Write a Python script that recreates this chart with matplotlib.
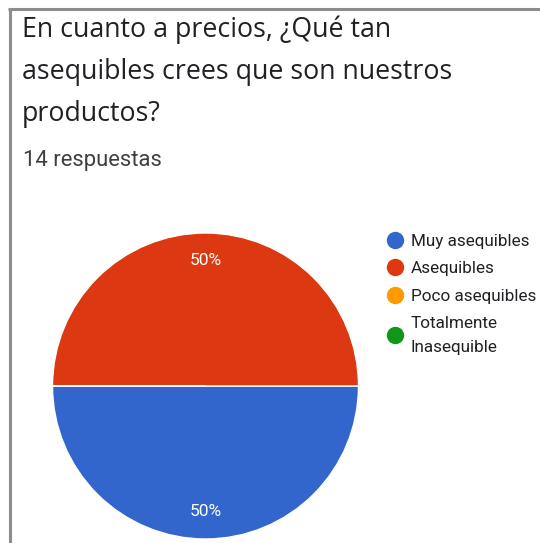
import matplotlib
matplotlib.use("Agg")
import matplotlib.pyplot as plt
from matplotlib.lines import Line2D

# survey answers
categories = ["Muy asequibles", "Asequibles", "Poco asequibles", "Totalmente\nInasequible"]
counts = [7, 7, 0, 0]
colors = ["#3366cc", "#dc3912", "#ff9900", "#109618"]
title_lines = ["En cuanto a precios, ¿Qué tan", "asequibles crees que son nuestros", "productos?"]
subtitle = "14 respuestas"

plt.rcParams["font.family"] = ["Roboto", "DejaVu Sans"]

W, H = 540, 543
fig = plt.figure(figsize=(W / 100, H / 100), dpi=100)
fig.patch.set_facecolor("white")

# card frame: left and top edge only
frame_col = "#8c8c8c"
fig.add_artist(Line2D([9.5 / W, 9.5 / W], [0, 1 - 8.5 / H], color=frame_col, lw=2.2,
                      solid_capstyle="butt"))
fig.add_artist(Line2D([8.3 / W, 1], [1 - 8.5 / H, 1 - 8.5 / H], color=frame_col, lw=2.2,
                      solid_capstyle="butt"))

# question text
for i, line in enumerate(title_lines):
    fig.text(22 / W, 1 - (37 + i * 42) / H, line, fontsize=19.3, color="#202124",
             family=["Open Sans", "DejaVu Sans"], ha="left", va="baseline")
fig.text(23 / W, 1 - 166 / H, subtitle, fontsize=15.8, color="#3c4043",
         ha="left", va="baseline")

# pie
cx, cy, r = 205.5, 386, 153
ax = fig.add_axes([(cx - r) / W, (H - cy - r) / H, 2 * r / W, 2 * r / H])


def pct_label(p):
    return f"{p:.0f}%" if p > 0 else ""


wedges, texts, autotexts = ax.pie(
    counts, colors=colors, startangle=180, counterclock=True,
    autopct=pct_label, pctdistance=0.82, radius=1,
    wedgeprops=dict(edgecolor="white", linewidth=1),
    textprops=dict(color="white", fontsize=12.5))
ax.set_xlim(-1, 1)
ax.set_ylim(-1, 1)
ax.set_aspect("equal")
ax.axis("off")

# legend with round markers
handles = [Line2D([], [], marker="o", linestyle="none", markersize=11.5,
                  markerfacecolor=c, markeredgecolor=c) for c in colors]
leg = fig.legend(handles, categories, loc="upper left",
                 bbox_to_anchor=(387 / W, 1 - 234 / H), frameon=False,
                 fontsize=12.3, handlelength=0.95, handletextpad=0.45,
                 labelspacing=0.72, borderpad=0, borderaxespad=0)
for t in leg.get_texts():
    t.set_color("#202124")
    t.set_linespacing(1.76)

fig.savefig("out.png", dpi=100)
